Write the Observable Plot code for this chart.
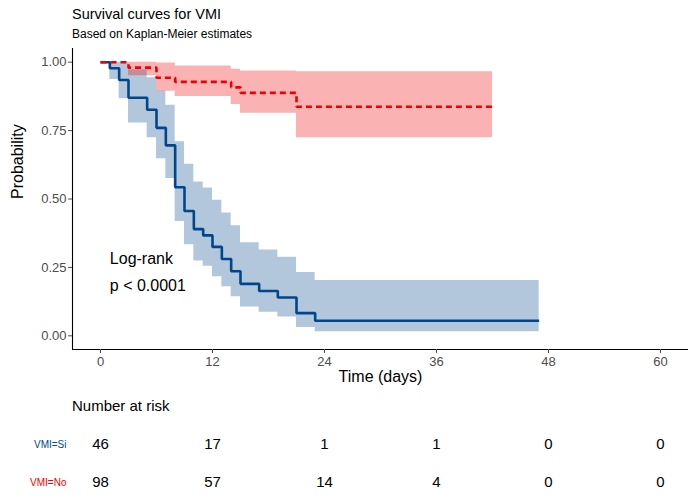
<!DOCTYPE html>
<html><head><meta charset="utf-8">
<script src="https://cdn.jsdelivr.net/npm/d3@7"></script>
<script src="https://cdn.jsdelivr.net/npm/@observablehq/plot@0.6"></script>
<style>
body{margin:0;background:#fff;}
#root{position:relative;width:688px;height:499px;overflow:hidden;font-family:"Liberation Sans",Arial,Helvetica,sans-serif;}
.t{position:absolute;white-space:nowrap;line-height:1;color:#000;}
#root svg{position:absolute;left:0;}
</style></head><body><div id="root">
<div class="t" style="left:72px;top:6.7px;font-size:14.5px;">Survival curves for VMI</div>
<div class="t" style="left:72px;top:27.8px;font-size:12px;">Based on Kaplan-Meier estimates</div>
<div class="t" style="left:72px;top:397.7px;font-size:15px;">Number at risk</div>
</div>
<script>
// ---- data ----
const strata = ["VMI=Si", "VMI=No"];
const strataColors = ["#00468B", "#ED0000"];

const siTime  = [0, 1, 2, 3, 5, 6, 7, 8, 9, 10, 11, 12, 13, 14, 15, 17, 19, 21, 23, 47];
const siSurv  = [1, 0.978, 0.935, 0.870, 0.826, 0.760, 0.696, 0.543, 0.456, 0.390, 0.367, 0.325, 0.281, 0.236, 0.190, 0.164, 0.140, 0.083, 0.055, 0.055];
const siLower = [1, 0.937, 0.866, 0.778, 0.724, 0.647, 0.575, 0.418, 0.333, 0.273, 0.254, 0.216, 0.179, 0.143, 0.105, 0.086, 0.069, 0.030, 0.015, 0.015];
const siUpper = [1, 1, 1, 0.972, 0.943, 0.895, 0.843, 0.709, 0.627, 0.562, 0.540, 0.495, 0.449, 0.402, 0.340, 0.314, 0.287, 0.231, 0.202, 0.202];

const noTime  = [0, 3, 6, 8, 14, 15, 21, 42];
const noSurv  = [1, 0.980, 0.943, 0.928, 0.908, 0.888, 0.837, 0.837];
const noLower = [1, 0.950, 0.894, 0.875, 0.845, 0.813, 0.724, 0.724];
const noUpper = [1, 1, 0.997, 0.986, 0.974, 0.968, 0.965, 0.965];

const xTicks = [0, 12, 24, 36, 48, 60];
const yTicks = [0, 0.25, 0.5, 0.75, 1];
const riskTimes = [0, 12, 24, 36, 48, 60];
const riskSi = [46, 17, 1, 1, 0, 0];
const riskNo = [98, 57, 14, 4, 0, 0];

const pvalText = "Log-rank\np < 0.0001";
const pvalX = 1;
const pvalY = 0.245;

// ---- build tables ----
const si = siTime.map((t, i) => ({time: t, surv: siSurv[i], lower: siLower[i], upper: siUpper[i]}));
const no = noTime.map((t, i) => ({time: t, surv: noSurv[i], lower: noLower[i], upper: noUpper[i]}));
const riskData = [
  ...riskTimes.map((t, i) => ({time: t, strata: strata[0], n: riskSi[i]})),
  ...riskTimes.map((t, i) => ({time: t, strata: strata[1], n: riskNo[i]}))
];

const font = '"Liberation Sans", Arial, Helvetica, sans-serif';
const xDomain = [-3, 63];

const main = Plot.plot({
  width: 688, height: 390,
  marginLeft: 72, marginRight: 0, marginTop: 48, marginBottom: 41,
  x: {domain: xDomain},
  y: {domain: [-0.05, 1.05]},
  style: {fontFamily: font, background: "transparent", overflow: "visible"},
  marks: [
    Plot.areaY(si, {x: "time", y1: "lower", y2: "upper", curve: "step-after", fill: strataColors[0], fillOpacity: 0.3}),
    Plot.areaY(no, {x: "time", y1: "lower", y2: "upper", curve: "step-after", fill: strataColors[1], fillOpacity: 0.3}),
    Plot.line(si, {x: "time", y: "surv", curve: "step-after", stroke: strataColors[0], strokeWidth: 2.6, strokeLinecap: "butt", strokeLinejoin: "miter"}),
    Plot.line(no, {x: "time", y: "surv", curve: "step-after", stroke: strataColors[1], strokeWidth: 2.6, strokeDasharray: "6,4", strokeLinecap: "butt", strokeLinejoin: "miter"}),
    Plot.ruleX([xDomain[0]], {stroke: "#000", strokeWidth: 1.1}),
    Plot.ruleY([-0.05], {stroke: "#000", strokeWidth: 1.1}),
    Plot.axisX({ticks: xTicks, tickSize: 4, tickPadding: 3, fontSize: 13, color: "#4d4d4d", label: null}),
    Plot.axisY({ticks: yTicks, tickSize: 4, tickPadding: 2, fontSize: 13, color: "#4d4d4d", tickFormat: d3.format(".2f"), label: null}),
    Plot.text([pvalText], {x: pvalX, y: pvalY, text: d => d, textAnchor: "start", lineAnchor: "middle", fontSize: 16, lineHeight: 1.7, fill: "#000"}),
    Plot.text(["Time (days)"], {frameAnchor: "bottom", text: d => d, dy: 32, fontSize: 16, fill: "#000"}),
    Plot.text(["Probability"], {frameAnchor: "left", text: d => d, rotate: -90, dx: -54.6, fontSize: 16, fill: "#000"})
  ]
});
main.style.top = "0px";
document.getElementById("root").appendChild(main);

const risk = Plot.plot({
  width: 688, height: 109,
  marginLeft: 72, marginRight: 0, marginTop: 0, marginBottom: 0,
  x: {domain: xDomain, axis: null},
  y: {type: "point", domain: strata, range: [53.5, 91.5], padding: 0, axis: null},
  style: {fontFamily: font, background: "transparent", overflow: "visible"},
  marks: [
    Plot.text(riskData, {x: "time", y: "strata", text: "n", fontSize: 15, fill: "#000"}),
    Plot.text([strata[0]], {frameAnchor: "left", y: d => d, text: d => d, textAnchor: "end", dx: -6, fontSize: 10, fill: strataColors[0]}),
    Plot.text([strata[1]], {frameAnchor: "left", y: d => d, text: d => d, textAnchor: "end", dx: -6, fontSize: 10, fill: strataColors[1]})
  ]
});
risk.style.top = "390px";
document.getElementById("root").appendChild(risk);
</script>
</body></html>
